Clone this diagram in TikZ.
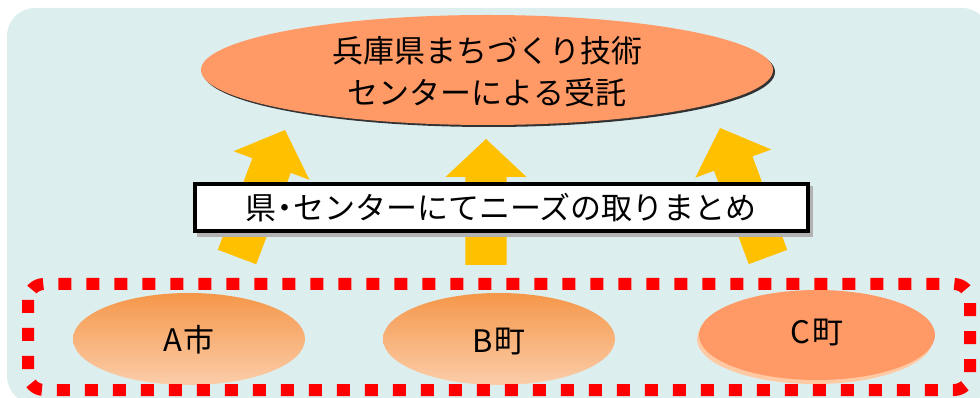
\documentclass[tikz,border=0pt]{standalone}
\usepackage{fontspec}
\setmainfont{Noto Sans CJK JP}
\usetikzlibrary{calc,shapes.geometric}
\definecolor{bgc}{HTML}{DDEEEE}
\definecolor{salmon}{HTML}{FF9966}
\definecolor{rim}{HTML}{FFC9A3}
\definecolor{arrowc}{HTML}{FFC000}
\definecolor{gtop}{HTML}{F5974A}
\definecolor{gbot}{HTML}{FBCDA9}
\tikzset{
  bigtext/.style={font=\fontsize{23.25pt}{31.5pt}\selectfont, text=black},
  ovalbox/.style={ellipse, inner sep=0pt},
  gradoval/.style={ovalbox, top color=gtop, bottom color=gbot, draw=none},
  arrowfill/.style={fill=arrowc, draw=none},
}
\newcommand{\blockarrow}[2]{%
  \coordinate (hb) at ($(#2)!28.5pt!(#1)$);
  \fill[arrowfill] ($(#1)!15.4pt!90:(#2)$) -- ($(hb)!15.4pt!90:(#2)$) -- ($(hb)!30.4pt!90:(#2)$) -- (#2)
    -- ($(hb)!30.4pt!-90:(#2)$) -- ($(hb)!15.4pt!-90:(#2)$) -- ($(#1)!15.4pt!-90:(#2)$) -- cycle;
}
\begin{document}
\begin{tikzpicture}[x=0.75pt,y=-0.75pt]
\useasboundingbox (0,0) rectangle (980,398);
% background
\fill[bgc, rounded corners=21pt] (7,8) rectangle (990,404);
% top ellipse with shadow
\fill[black!80] (489,72) ellipse [x radius=286, y radius=55];
\node[ovalbox, fill=salmon, minimum width=572*0.75pt, minimum height=110*0.75pt] (top) at (487,70) {};
\node[bigtext, align=center] (toptext) at (487,72) {兵庫県まちづくり技術\\センターによる受託};
% arrows
\coordinate (la0) at (237,257); \coordinate (la1) at (285,130);
\coordinate (ma0) at (486,265); \coordinate (ma1) at (486,139);
\coordinate (ra0) at (768,257); \coordinate (ra1) at (720,128);
\blockarrow{la0}{la1}
\blockarrow{ma0}{ma1}
\blockarrow{ra0}{ra1}
% middle box
\fill[gray!60] (197,186) rectangle (813,237);
\draw[black, line width=3.6pt, fill=white] (195,184) rectangle (808,231);
\node[bigtext] (mid) at (501,208) {県\makebox[0.55em]{・}センターにてニーズの取りまとめ};
% bottom ovals
\node[gradoval, minimum width=232*0.75pt, minimum height=92*0.75pt] (a) at (189,339) {};
\node[bigtext] at ($(a.center)+(0,1)$) {A\kern0.05em 市};
\node[gradoval, minimum width=232*0.75pt, minimum height=92*0.75pt] (b) at (499,339) {};
\node[bigtext] at ($(b.center)+(0,3)$) {B\kern0.05em 町};
\fill[rim] (815,339) ellipse [x radius=118, y radius=45];
\node[ovalbox, fill=salmon, minimum width=236*0.75pt, minimum height=90*0.75pt] (c) at (817,335) {};
\node[bigtext] at ($(c.center)+(0,-2)$) {C\kern0.05em 町};
% dashed red frame
\draw[red, line width=9pt, dash pattern=on 9.75pt off 11.25pt, rounded corners=12pt] (28,284) rectangle (970,390);
\end{tikzpicture}
\end{document}
